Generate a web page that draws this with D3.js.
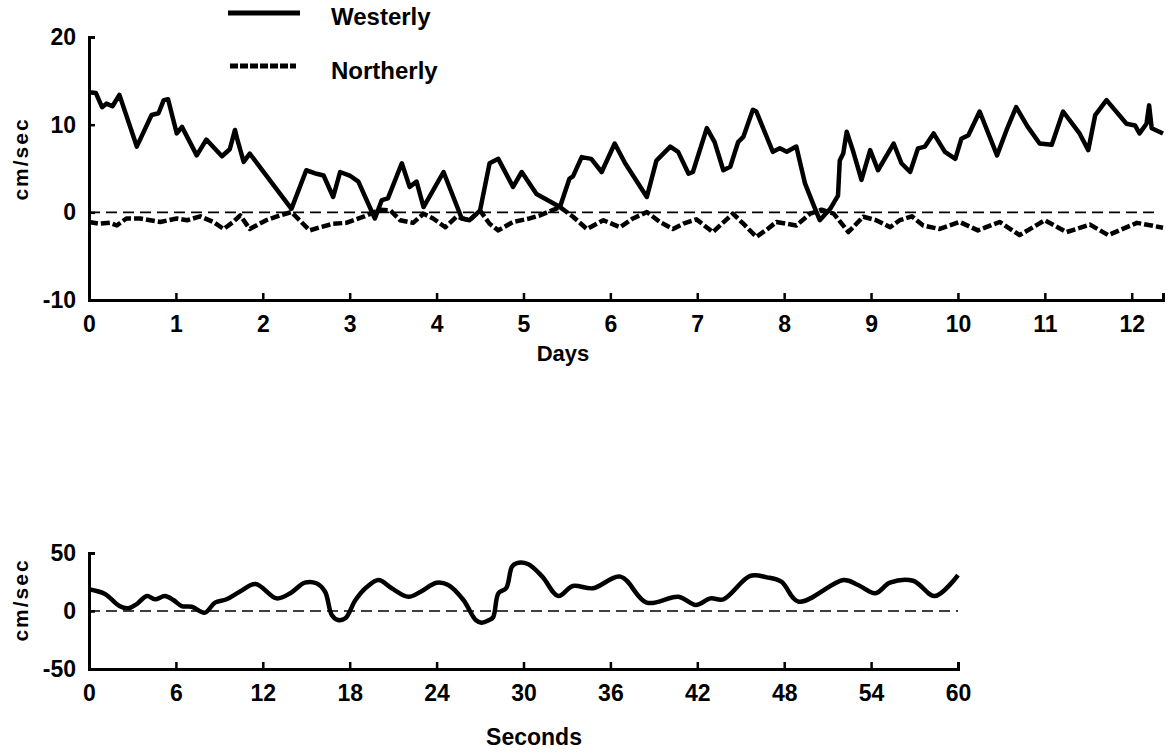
<!DOCTYPE html>
<html>
<head>
<meta charset="utf-8">
<script src="https://cdn.jsdelivr.net/npm/d3@7"></script>
<style>
  body { margin: 0; background: #fff; }
  text { font-family: "Liberation Sans", Arial, sans-serif; font-weight: 700; fill: #000; }
</style>
</head>
<body>
<div id="chart"></div>
<script>
// Top panel: current speed over days
var westDays = [0, 0.08, 0.15, 0.2, 0.27, 0.35, 0.55, 0.72, 0.8, 0.86, 0.91, 1.01, 1.07, 1.24, 1.35, 1.53, 1.62, 1.68, 1.71, 1.78, 1.85,
  2.33, 2.5, 2.62, 2.7, 2.81, 2.89, 3.0, 3.1, 3.29, 3.37, 3.44, 3.6, 3.69, 3.77, 3.85, 4.08, 4.29, 4.38, 4.5, 4.61, 4.71,
  4.88, 4.98, 5.15, 5.42, 5.53, 5.57, 5.67, 5.78, 5.9, 6.05, 6.17, 6.42, 6.53, 6.69, 6.78, 6.9, 6.95, 7.11, 7.2, 7.3, 7.38,
  7.47, 7.53, 7.64, 7.68, 7.87, 7.95, 8.03, 8.14, 8.24, 8.34, 8.41, 8.53, 8.62, 8.64, 8.68, 8.72, 8.79, 8.89, 8.99, 9.08,
  9.26, 9.35, 9.45, 9.54, 9.62, 9.72, 9.85, 9.97, 10.04, 10.12, 10.25, 10.45, 10.56, 10.67, 10.8, 10.94, 11.08, 11.21,
  11.4, 11.5, 11.58, 11.71, 11.94, 12.04, 12.09, 12.17, 12.2, 12.23, 12.36];
var westerly = [13.7, 13.6, 12.0, 12.4, 12.1, 13.4, 7.5, 11.1, 11.3, 12.8, 12.9, 9.0, 9.75, 6.5, 8.3, 6.4, 7.2, 9.4, 8.2, 5.75, 6.7,
  0.4, 4.8, 4.4, 4.2, 1.75, 4.6, 4.2, 3.5, -0.7, 1.4, 1.6, 5.6, 2.9, 3.5, 0.6, 4.6, -0.7, -0.9, 0.2, 5.6, 6.1,
  2.9, 4.6, 2.1, 0.6, 3.85, 4.1, 6.3, 6.1, 4.6, 7.85, 5.6, 1.75, 5.9, 7.5, 6.9, 4.4, 4.6, 9.6, 8.0, 4.8, 5.2,
  8.0, 8.6, 11.7, 11.5, 6.9, 7.3, 6.9, 7.5, 3.3, 0.8, -0.9, 0.4, 1.9, 5.9, 6.7, 9.2, 7.1, 3.7, 7.1, 4.8,
  7.85, 5.6, 4.6, 7.3, 7.5, 9.0, 6.9, 6.1, 8.4, 8.8, 11.5, 6.5, 9.4, 12.0, 9.8, 7.85, 7.7, 11.5,
  9.0, 7.1, 11.1, 12.8, 10.1, 9.9, 9.0, 10.1, 12.2, 9.6, 9.0];

var northDays = [0, 0.12, 0.24, 0.32, 0.43, 0.59, 0.82, 1.01, 1.13, 1.28, 1.43, 1.55, 1.66, 1.74, 1.85, 2.04, 2.2, 2.33, 2.54,
  2.66, 2.81, 2.96, 3.16, 3.35, 3.47, 3.58, 3.73, 3.85, 3.96, 4.1, 4.23, 4.38, 4.5, 4.61, 4.71, 4.88, 5.07, 5.19, 5.42,
  5.57, 5.73, 5.92, 6.11, 6.26, 6.42, 6.57, 6.72, 6.84, 6.99, 7.18, 7.41, 7.53, 7.68, 7.81, 7.91, 8.14, 8.3, 8.43, 8.57,
  8.74, 8.91, 9.06, 9.22, 9.33, 9.47, 9.6, 9.79, 10.02, 10.23, 10.48, 10.71, 11.0, 11.25, 11.52, 11.73, 12.06, 12.36];
var northerly = [-1.1, -1.3, -1.2, -1.5, -0.7, -0.7, -1.1, -0.7, -0.9, -0.46, -1.1, -1.9, -1.1, -0.34, -1.9, -0.9, -0.34, 0.03, -2.06,
  -1.7, -1.3, -1.2, -0.5, 0.3, 0.2, -0.9, -1.2, -0.15, -0.7, -1.7, -0.5, -0.9, 0.2, -1.3, -2.06, -1.1, -0.7, -0.34, 0.6,
  -0.5, -1.9, -0.9, -1.7, -0.7, 0.03, -1.1, -1.9, -1.3, -0.8, -2.25, -0.15, -1.3, -2.8, -1.9, -1.1, -1.5, -0.15, 0.3, -0.15,
  -2.25, -0.5, -0.9, -1.7, -0.9, -0.46, -1.5, -1.9, -1.1, -2.06, -1.1, -2.6, -0.9, -2.25, -1.4, -2.6, -1.2, -1.75];

var dayTicks = [0, 1, 2, 3, 4, 5, 6, 7, 8, 9, 10, 11, 12];
var topYTicks = [-10, 0, 10, 20];

// Bottom panel: current speed over seconds
var seconds = [0, 1.1, 2.1, 2.7, 3.3, 4.0, 4.56, 5.25, 5.82, 6.4, 7.09, 8.0, 8.7, 9.5, 10.4, 11.5, 12.96, 13.9, 14.9, 15.7,
  16.3, 16.76, 17.2, 17.7, 18.4, 19.2, 20.0, 20.9, 22.05, 22.9, 24.0, 24.8, 25.85, 26.7, 27.1, 27.6, 27.9, 28.27, 28.8,
  29.2, 29.5, 30.3, 31.3, 32.4, 33.4, 34.8, 36.7, 38.5, 40.7, 41.9, 42.9, 43.8, 45.65, 46.8, 47.8, 49.0, 52.1, 53.1,
  54.3, 55.3, 56.9, 58.4, 60.0];
var speed = [18.7, 14.6, 4.3, 2.3, 6.0, 12.9, 10.1, 12.9, 9.5, 4.3, 3.7, -1.4, 7.2, 10.1, 16.6, 23.3, 10.9, 15.3, 24.4, 23.9,
  16.6, -3.4, -7.8, -6.3, 9.5, 20.9, 26.7, 19.6, 12.3, 16.6, 24.4, 22.4, 9.5, -7.8, -10.1, -8.0, -5.5, 15.3, 19.6,
  38.2, 41.1, 40.5, 29.6, 12.9, 21.6, 19.6, 29.6, 7.2, 12.3, 5.2, 10.9, 10.1, 30.2, 29.0, 25.3, 8.0, 26.7, 22.4,
  15.3, 24.4, 26.1, 12.9, 31.0];
var secTicks = [0, 6, 12, 18, 24, 30, 36, 42, 48, 54, 60];
var botYTicks = [-50, 0, 50];

var svgWidth = 1166;
var svgHeight = 752;

var svg = d3.select("#chart")
  .append("svg")
  .attr("width", svgWidth)
  .attr("height", svgHeight);

var plainFormat = d => String(d);   // hyphen minus, as in the original

// ---------- top panel ----------
var xTop = d3.scaleLinear().domain([0, 12.36]).range([89, 1163]);
var yTop = d3.scaleLinear().domain([-10, 20]).range([300, 37]);

var topG = svg.append("g");

// zero reference
topG.append("line")
  .attr("x1", xTop(0)).attr("x2", xTop(12.28))
  .attr("y1", yTop(0)).attr("y2", yTop(0))
  .attr("stroke", "#000").attr("stroke-width", 1.6)
  .attr("stroke-dasharray", "11,6");

topG.append("g")
  .attr("transform", `translate(0, ${yTop(-10)})`)
  .call(d3.axisBottom(xTop).tickValues(dayTicks).tickSize(-7).tickPadding(16).tickFormat(plainFormat));

topG.append("g")
  .attr("transform", `translate(${xTop(0)}, 0)`)
  .call(d3.axisLeft(yTop).tickValues(topYTicks).tickSize(-6).tickPadding(13).tickFormat(plainFormat));

var lineWest = d3.line()
  .x((d, i) => xTop(westDays[i]))
  .y(d => yTop(d));

var lineNorth = d3.line()
  .x((d, i) => xTop(northDays[i]))
  .y(d => yTop(d));

topG.append("path")
  .datum(northerly)
  .attr("d", lineNorth)
  .attr("fill", "none").attr("stroke", "#000")
  .attr("stroke-width", 4.5).attr("stroke-dasharray", "9,3")
  .attr("stroke-linejoin", "round");

topG.append("path")
  .datum(westerly)
  .attr("d", lineWest)
  .attr("fill", "none").attr("stroke", "#000")
  .attr("stroke-width", 4.5).attr("stroke-linejoin", "round");

// axis labels
topG.append("text")
  .attr("transform", `translate(28, 159) rotate(-90)`)
  .attr("text-anchor", "middle")
  .attr("font-size", 21)
  .attr("letter-spacing", 2)
  .text("cm/sec");

topG.append("text")
  .attr("x", 563).attr("y", 361)
  .attr("text-anchor", "middle")
  .attr("font-size", 22)
  .text("Days");

// legend
var legend = svg.append("g");
legend.append("line")
  .attr("x1", 228).attr("x2", 300).attr("y1", 13).attr("y2", 13)
  .attr("stroke", "#000").attr("stroke-width", 5);
legend.append("text")
  .attr("x", 331).attr("y", 25)
  .attr("font-size", 24)
  .text("Westerly");
legend.append("line")
  .attr("x1", 230).attr("x2", 296).attr("y1", 66).attr("y2", 66)
  .attr("stroke", "#000").attr("stroke-width", 5)
  .attr("stroke-dasharray", "8,2");
legend.append("text")
  .attr("x", 331).attr("y", 79)
  .attr("font-size", 24)
  .text("Northerly");

// ---------- bottom panel ----------
var xBot = d3.scaleLinear().domain([0, 60]).range([89, 958]);
var yBot = d3.scaleLinear().domain([-50, 50]).range([669, 553]);

var botG = svg.append("g");

botG.append("line")
  .attr("x1", xBot(0)).attr("x2", xBot(60))
  .attr("y1", yBot(0)).attr("y2", yBot(0))
  .attr("stroke", "#000").attr("stroke-width", 1.6)
  .attr("stroke-dasharray", "11,6");

botG.append("g")
  .attr("transform", `translate(0, ${yBot(-50)})`)
  .call(d3.axisBottom(xBot).tickValues(secTicks).tickSize(-7).tickPadding(16).tickFormat(plainFormat));

botG.append("g")
  .attr("transform", `translate(${xBot(0)}, 0)`)
  .call(d3.axisLeft(yBot).tickValues(botYTicks).tickSize(-6).tickPadding(13).tickFormat(plainFormat));

var lineSec = d3.line()
  .x((d, i) => xBot(seconds[i]))
  .y(d => yBot(d))
  .curve(d3.curveCatmullRom);

botG.append("path")
  .datum(speed)
  .attr("d", lineSec)
  .attr("fill", "none").attr("stroke", "#000")
  .attr("stroke-width", 4.5).attr("stroke-linejoin", "round");

botG.append("text")
  .attr("transform", `translate(28, 600) rotate(-90)`)
  .attr("text-anchor", "middle")
  .attr("font-size", 21)
  .attr("letter-spacing", 2)
  .text("cm/sec");

botG.append("text")
  .attr("x", 534).attr("y", 745)
  .attr("text-anchor", "middle")
  .attr("font-size", 23)
  .text("Seconds");

// axis styling: heavy black lines and bold tick labels
svg.selectAll(".domain").attr("stroke", "#000").attr("stroke-width", 3);
svg.selectAll(".tick line").attr("stroke", "#000").attr("stroke-width", 2.5);
svg.selectAll(".tick text")
  .attr("font-size", 23)
  .attr("font-family", "'Liberation Sans', Arial, sans-serif")
  .attr("font-weight", 700)
  .attr("fill", "#000");
</script>
</body>
</html>
